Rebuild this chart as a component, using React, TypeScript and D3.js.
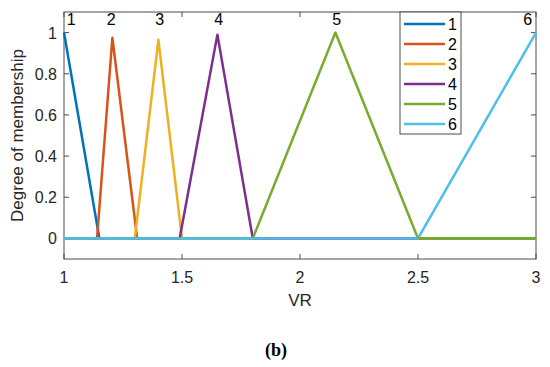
import React, { useEffect, useRef } from 'react';
import * as d3 from 'd3';

// membership functions, one list of [VR, degree] points per set
const mf1 = [[1, 1], [1.15, 0], [3, 0]];
const mf2 = [[1, 0], [1.14, 0], [1.205, 0.975], [1.31, 0], [3, 0]];
const mf3 = [[1, 0], [1.3, 0], [1.4, 0.965], [1.5, 0], [3, 0]];
const mf4 = [[1, 0], [1.49, 0], [1.65, 0.99], [1.8, 0], [3, 0]];
const mf5 = [[1, 0], [1.8, 0], [2.15, 1], [2.5, 0], [3, 0]];
const mf6 = [[1, 0], [2.5, 0], [3, 1]];
const seriesNames = ['1', '2', '3', '4', '5', '6'];
const colors = ['#0072BD', '#D95319', '#EDB120', '#7E2F8E', '#77AC30', '#4DBEEE'];
// peak label positions (x, y) in data units
const peakLabels = [[1.03, 1.035], [1.2, 1.035], [1.405, 1.035], [1.655, 1.035], [2.155, 1.035], [2.965, 1.035]];
const xTicks = [1, 1.5, 2, 2.5, 3];
const yTicks = [0, 0.2, 0.4, 0.6, 0.8, 1];

const App: React.FC = () => {
  const svgRef = useRef<SVGSVGElement>(null);

  useEffect(() => {
    if (!svgRef.current) return;
    const svg = d3.select(svgRef.current);
    svg.selectAll('*').remove();

    const left = 64, right = 536, top = 12, bottom = 259;
    const x = d3.scaleLinear().domain([1, 3]).range([left, right]);
    const y = d3.scaleLinear().domain([-0.1, 1.1]).range([bottom, top]);
    const ff = 'Arial, "Liberation Sans", Helvetica, sans-serif';
    const axisColor = '#4d4d4d';
    const textColor = '#262626';

    const g = svg.append('g').attr('font-family', ff);

    // box
    g.append('rect')
      .attr('x', left).attr('y', top)
      .attr('width', right - left).attr('height', bottom - top)
      .attr('fill', 'none').attr('stroke', axisColor).attr('stroke-width', 1);

    // ticks (inward, both sides)
    xTicks.forEach(t => {
      g.append('line').attr('x1', x(t)).attr('x2', x(t)).attr('y1', bottom).attr('y2', bottom - 5).attr('stroke', axisColor);
      g.append('line').attr('x1', x(t)).attr('x2', x(t)).attr('y1', top).attr('y2', top + 5).attr('stroke', axisColor);
      g.append('text').attr('x', x(t)).attr('y', bottom + 24)
        .attr('text-anchor', 'middle').attr('font-size', 16).attr('fill', textColor)
        .text(d3.format('~g')(t));
    });
    yTicks.forEach(t => {
      g.append('line').attr('x1', left).attr('x2', left + 5).attr('y1', y(t)).attr('y2', y(t)).attr('stroke', axisColor);
      g.append('line').attr('x1', right).attr('x2', right - 5).attr('y1', y(t)).attr('y2', y(t)).attr('stroke', axisColor);
      g.append('text').attr('x', left - 7).attr('y', y(t) + 6)
        .attr('text-anchor', 'end').attr('font-size', 16).attr('fill', textColor)
        .text(d3.format('~g')(t));
    });

    // lines
    const line = d3.line<number[]>().x(d => x(d[0])).y(d => y(d[1]));
    const series = [mf1, mf2, mf3, mf4, mf5, mf6];
    series.forEach((s, i) => {
      g.append('path').attr('d', line(s) as string)
        .attr('fill', 'none').attr('stroke', colors[i]).attr('stroke-width', 2.5)
        .attr('stroke-linejoin', 'round');
    });
    // green tail on top of blue after 2.5
    g.append('path').attr('d', line(mf5.slice(3)) as string)
      .attr('fill', 'none').attr('stroke', colors[4]).attr('stroke-width', 2.5);

    // peak labels
    peakLabels.forEach((p, i) => {
      g.append('text').attr('x', x(p[0])).attr('y', y(p[1]))
        .attr('text-anchor', 'middle').attr('font-size', 16).attr('fill', '#000')
        .text(seriesNames[i]);
    });

    // legend
    const lg = g.append('g');
    lg.append('rect').attr('x', 400).attr('y', top).attr('width', 61).attr('height', 122)
      .attr('fill', '#fff').attr('stroke', axisColor);
    seriesNames.forEach((n, i) => {
      const yy = top + 12 + i * 20;
      lg.append('line').attr('x1', 404).attr('x2', 445).attr('y1', yy).attr('y2', yy)
        .attr('stroke', colors[i]).attr('stroke-width', 2.5);
      lg.append('text').attr('x', 448).attr('y', yy + 6)
        .attr('font-size', 16).attr('fill', '#000').text(n);
    });

    // axis labels
    g.append('text').attr('x', x(2)).attr('y', 306)
      .attr('text-anchor', 'middle').attr('font-size', 17).attr('fill', textColor).text('VR');
    g.append('text').attr('transform', `translate(23,${(top + bottom) / 2}) rotate(-90)`)
      .attr('text-anchor', 'middle').attr('font-size', 17).attr('fill', textColor)
      .text('Degree of membership');

    // caption
    g.append('text').attr('x', 276).attr('y', 356)
      .attr('text-anchor', 'middle').attr('font-family', '"Liberation Serif", "DejaVu Serif", serif')
      .attr('font-weight', 'bold').attr('font-size', 18)
      .attr('fill', '#000').text('(b)');
  }, []);

  return (
    <div style={{ position: 'absolute', left: 0, top: 0, width: 550, height: 367, background: '#fff' }}>
      <svg ref={svgRef} width={550} height={367} style={{ display: 'block' }} />
    </div>
  );
};

export default App;
